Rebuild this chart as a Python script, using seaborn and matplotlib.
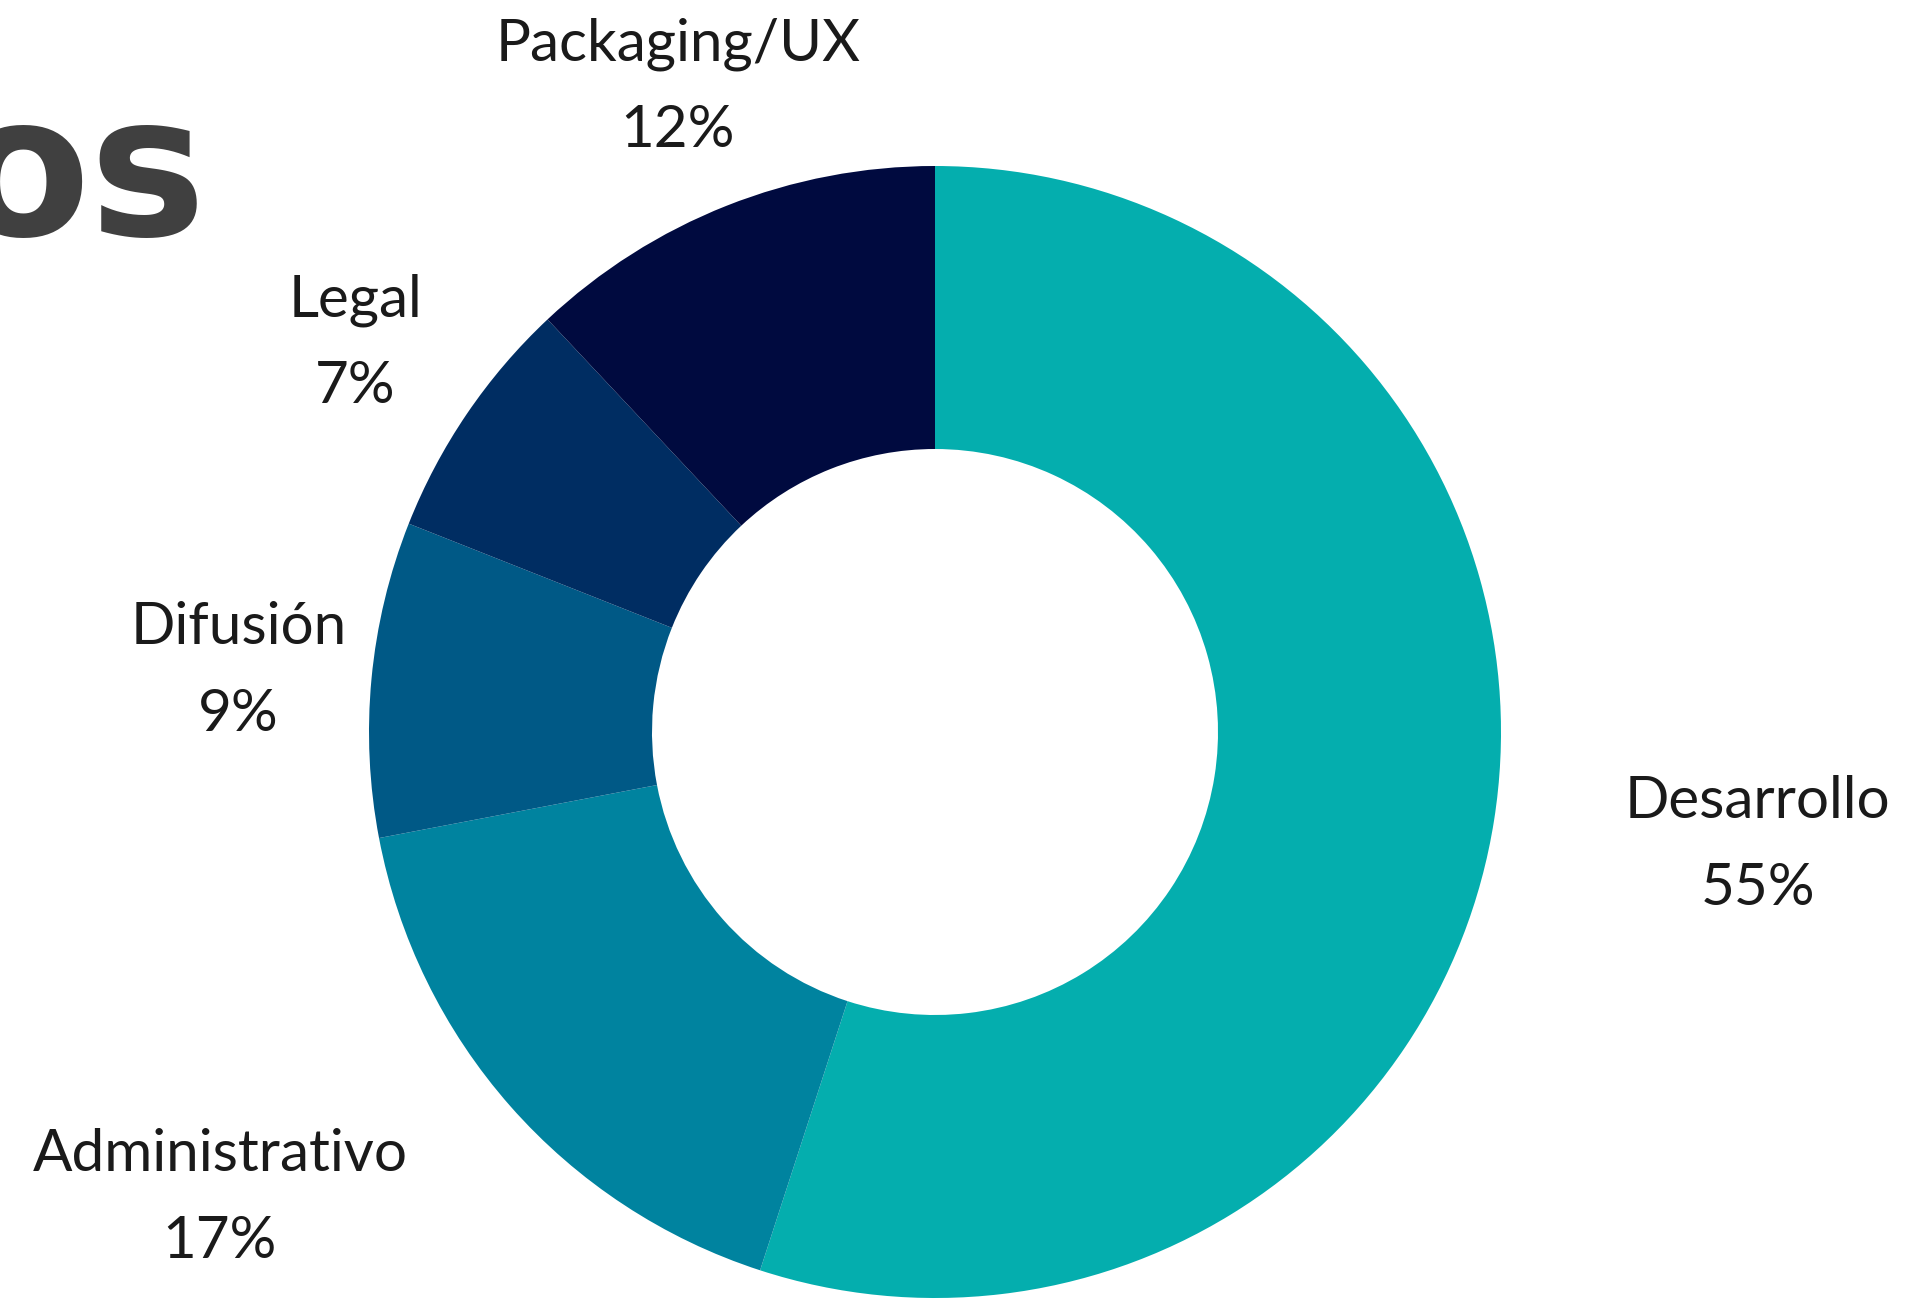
import numpy as np
import seaborn as sns
import matplotlib.pyplot as plt

# data
categorias = ['Desarrollo', 'Administrativo', 'Difusión', 'Legal', 'Packaging/UX']
porcentajes = [55, 17, 9, 7, 12]
colores = ['#04AEAE', '#00839F', '#005986', '#002D62', '#000A3F']

# label placement (distance from centre in radii, angle nudge in degrees)
dist_etiqueta = [1.466, 1.503, 1.236, 1.238, 1.235]
ajuste_angulo = [1.5, -8.6, 0, 0, 0]

sns.set_style('white')
plt.rcParams['font.family'] = ['Lato', 'DejaVu Sans']

fig = plt.figure(figsize=(19.13, 13.01), dpi=100)
ax = fig.add_axes([0, 0, 1, 1])

wedges, _ = ax.pie(porcentajes, colors=colores, startangle=90, counterclock=False,
                   radius=1, wedgeprops=dict(width=0.5, edgecolor='none'))

# one unit = 566 px, centre of the donut at (935, 732) px
ax.set_xlim(-935 / 566, (1913 - 935) / 566)
ax.set_ylim(-(1301 - 732) / 566, 732 / 566)
ax.set_aspect('auto')
ax.axis('off')

# labels: name on top, percentage below
for w, cat, val, d, da in zip(wedges, categorias, porcentajes, dist_etiqueta, ajuste_angulo):
    ang = np.deg2rad((w.theta1 + w.theta2) / 2 + da)
    cx, cy = d * np.cos(ang), d * np.sin(ang)
    ax.text(cx, cy + 0.039, cat, ha='center', va='baseline', fontsize=42,
            color='#1a1a1a', fontweight='normal')
    ax.text(cx, cy - 0.115, f'{val}%', ha='center', va='baseline', fontsize=42,
            color='#1a1a1a', fontweight='normal')

# cut-off title in the top left corner (it runs off the left edge in the original)
fig.text(207 / 1913, 1 - 235 / 1301, 'os', ha='right', va='baseline',
         fontsize=141, fontweight='bold', color='#404040', family='DejaVu Sans')

fig.savefig('out.png', dpi=100, facecolor='white')
